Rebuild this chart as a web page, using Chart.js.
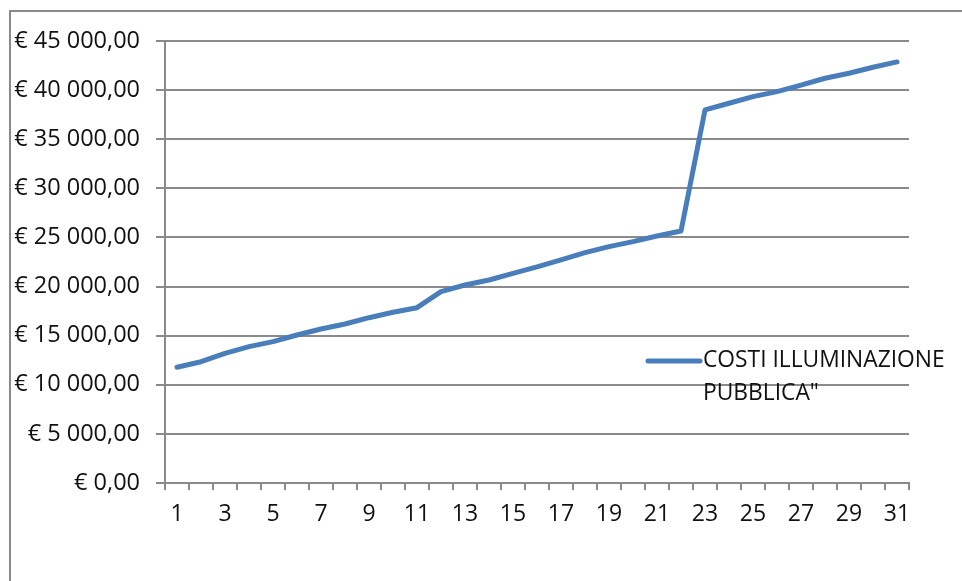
<!DOCTYPE html>
<html>
<head>
<meta charset="utf-8">
<script src="https://cdn.jsdelivr.net/npm/chart.js@4.4.1/dist/chart.umd.min.js"></script>
<style>
  html, body { margin: 0; padding: 0; background: #ffffff; }
  #wrap { position: relative; width: 962px; height: 581px; overflow: hidden; }
  #frame {
    position: absolute; left: 9px; top: 10px; width: 980px; height: 600px;
    border-left: 2px solid #8a8a8a; border-top: 2px solid #8a8a8a;
    box-sizing: border-box; pointer-events: none;
  }
  canvas { position: absolute; left: 0; top: 0; }
</style>
</head>
<body>
<div id="wrap">
  <canvas id="chart" width="962" height="581"></canvas>
  <div id="frame"></div>
</div>
<script>
// Days of the period (1..31)
const days = [1,2,3,4,5,6,7,8,9,10,11,12,13,14,15,16,17,18,19,20,21,22,23,24,25,26,27,28,29,30,31];

// Cumulative public lighting costs, in euro
const costs = [
  11780, 12350, 13200, 13880, 14390, 15070, 15680, 16190, 16830, 17380,
  17850, 19480, 20160, 20670, 21350, 22000, 22710, 23450, 24060, 24570,
  25150, 25660, 37980, 38660, 39340, 39850, 40500, 41210, 41720, 42330,
  42870
];

const seriesName = 'COSTI ILLUMINAZIONE PUBBLICA"';
const legendLines = ['COSTI ILLUMINAZIONE', 'PUBBLICA"'];

// Y axis range and step
const yMin = 0;
const yMax = 45000;
const yStep = 5000;

const FONT = "'Open Sans', 'Liberation Sans', sans-serif";
const GRID = '#8a8a8a';
const BLUE = '#4a7ebb';
const TEXT = '#111111';

// Italian currency formatting: "€ 45 000,00"
function euro(v) {
  const fixed = Math.abs(v).toFixed(2).split('.');
  const intPart = fixed[0].replace(/\B(?=(\d{3})+(?!\d))/g, ' ');
  return '€ ' + intPart + ',' + fixed[1];
}

// Legend drawn beside the line, text wrapped on two rows
const sideLegend = {
  id: 'sideLegend',
  afterDraw(chart) {
    const ctx = chart.ctx;
    const ds = chart.data.datasets[0];
    ctx.save();
    ctx.strokeStyle = ds.borderColor;
    ctx.lineWidth = 5;
    ctx.lineCap = 'round';
    ctx.beginPath();
    ctx.moveTo(648, 361);
    ctx.lineTo(700, 361);
    ctx.stroke();
    ctx.fillStyle = TEXT;
    ctx.font = '22.8px ' + FONT;
    ctx.textBaseline = 'middle';
    ctx.textAlign = 'left';
    legendLines.forEach((t, i) => ctx.fillText(t, 703, 361 + i * 33));
    ctx.restore();
  }
};

new Chart(document.getElementById('chart'), {
  type: 'line',
  data: {
    labels: days,
    datasets: [{
      label: seriesName,
      data: costs,
      borderColor: BLUE,
      backgroundColor: BLUE,
      borderWidth: 5,
      borderCapStyle: 'round',
      borderJoinStyle: 'round',
      pointRadius: 0,
      tension: 0,
      fill: false
    }]
  },
  options: {
    responsive: false,
    animation: false,
    layout: { padding: { left: 0, top: 41, right: 53, bottom: 0 } },
    plugins: {
      legend: { display: false },
      tooltip: { enabled: false },
      title: { display: false }
    },
    scales: {
      x: {
        type: 'category',
        offset: true,
        grid: {
          offset: true,
          drawOnChartArea: false,
          drawTicks: true,
          tickLength: 7,
          color: GRID,
          lineWidth: 2
        },
        border: { display: true, color: GRID, width: 2 },
        ticks: {
          autoSkip: false,
          maxRotation: 0,
          padding: 11,
          color: TEXT,
          font: { family: FONT, size: 23 },
          callback: function (value, index) {
            return index % 2 === 0 ? this.getLabelForValue(value) : '';
          }
        },
        afterFit(scale) { scale.height = 98; }
      },
      y: {
        min: yMin,
        max: yMax,
        ticks: {
          stepSize: yStep,
          padding: 16,
          color: TEXT,
          font: { family: FONT, size: 23.5 },
          callback: (v) => euro(v)
        },
        grid: {
          color: GRID,
          lineWidth: 2,
          drawTicks: true,
          tickLength: 9
        },
        border: { display: true, color: GRID, width: 2 },
        afterFit(scale) { scale.width = 165; }
      }
    }
  },
  plugins: [sideLegend]
});
</script>
</body>
</html>
